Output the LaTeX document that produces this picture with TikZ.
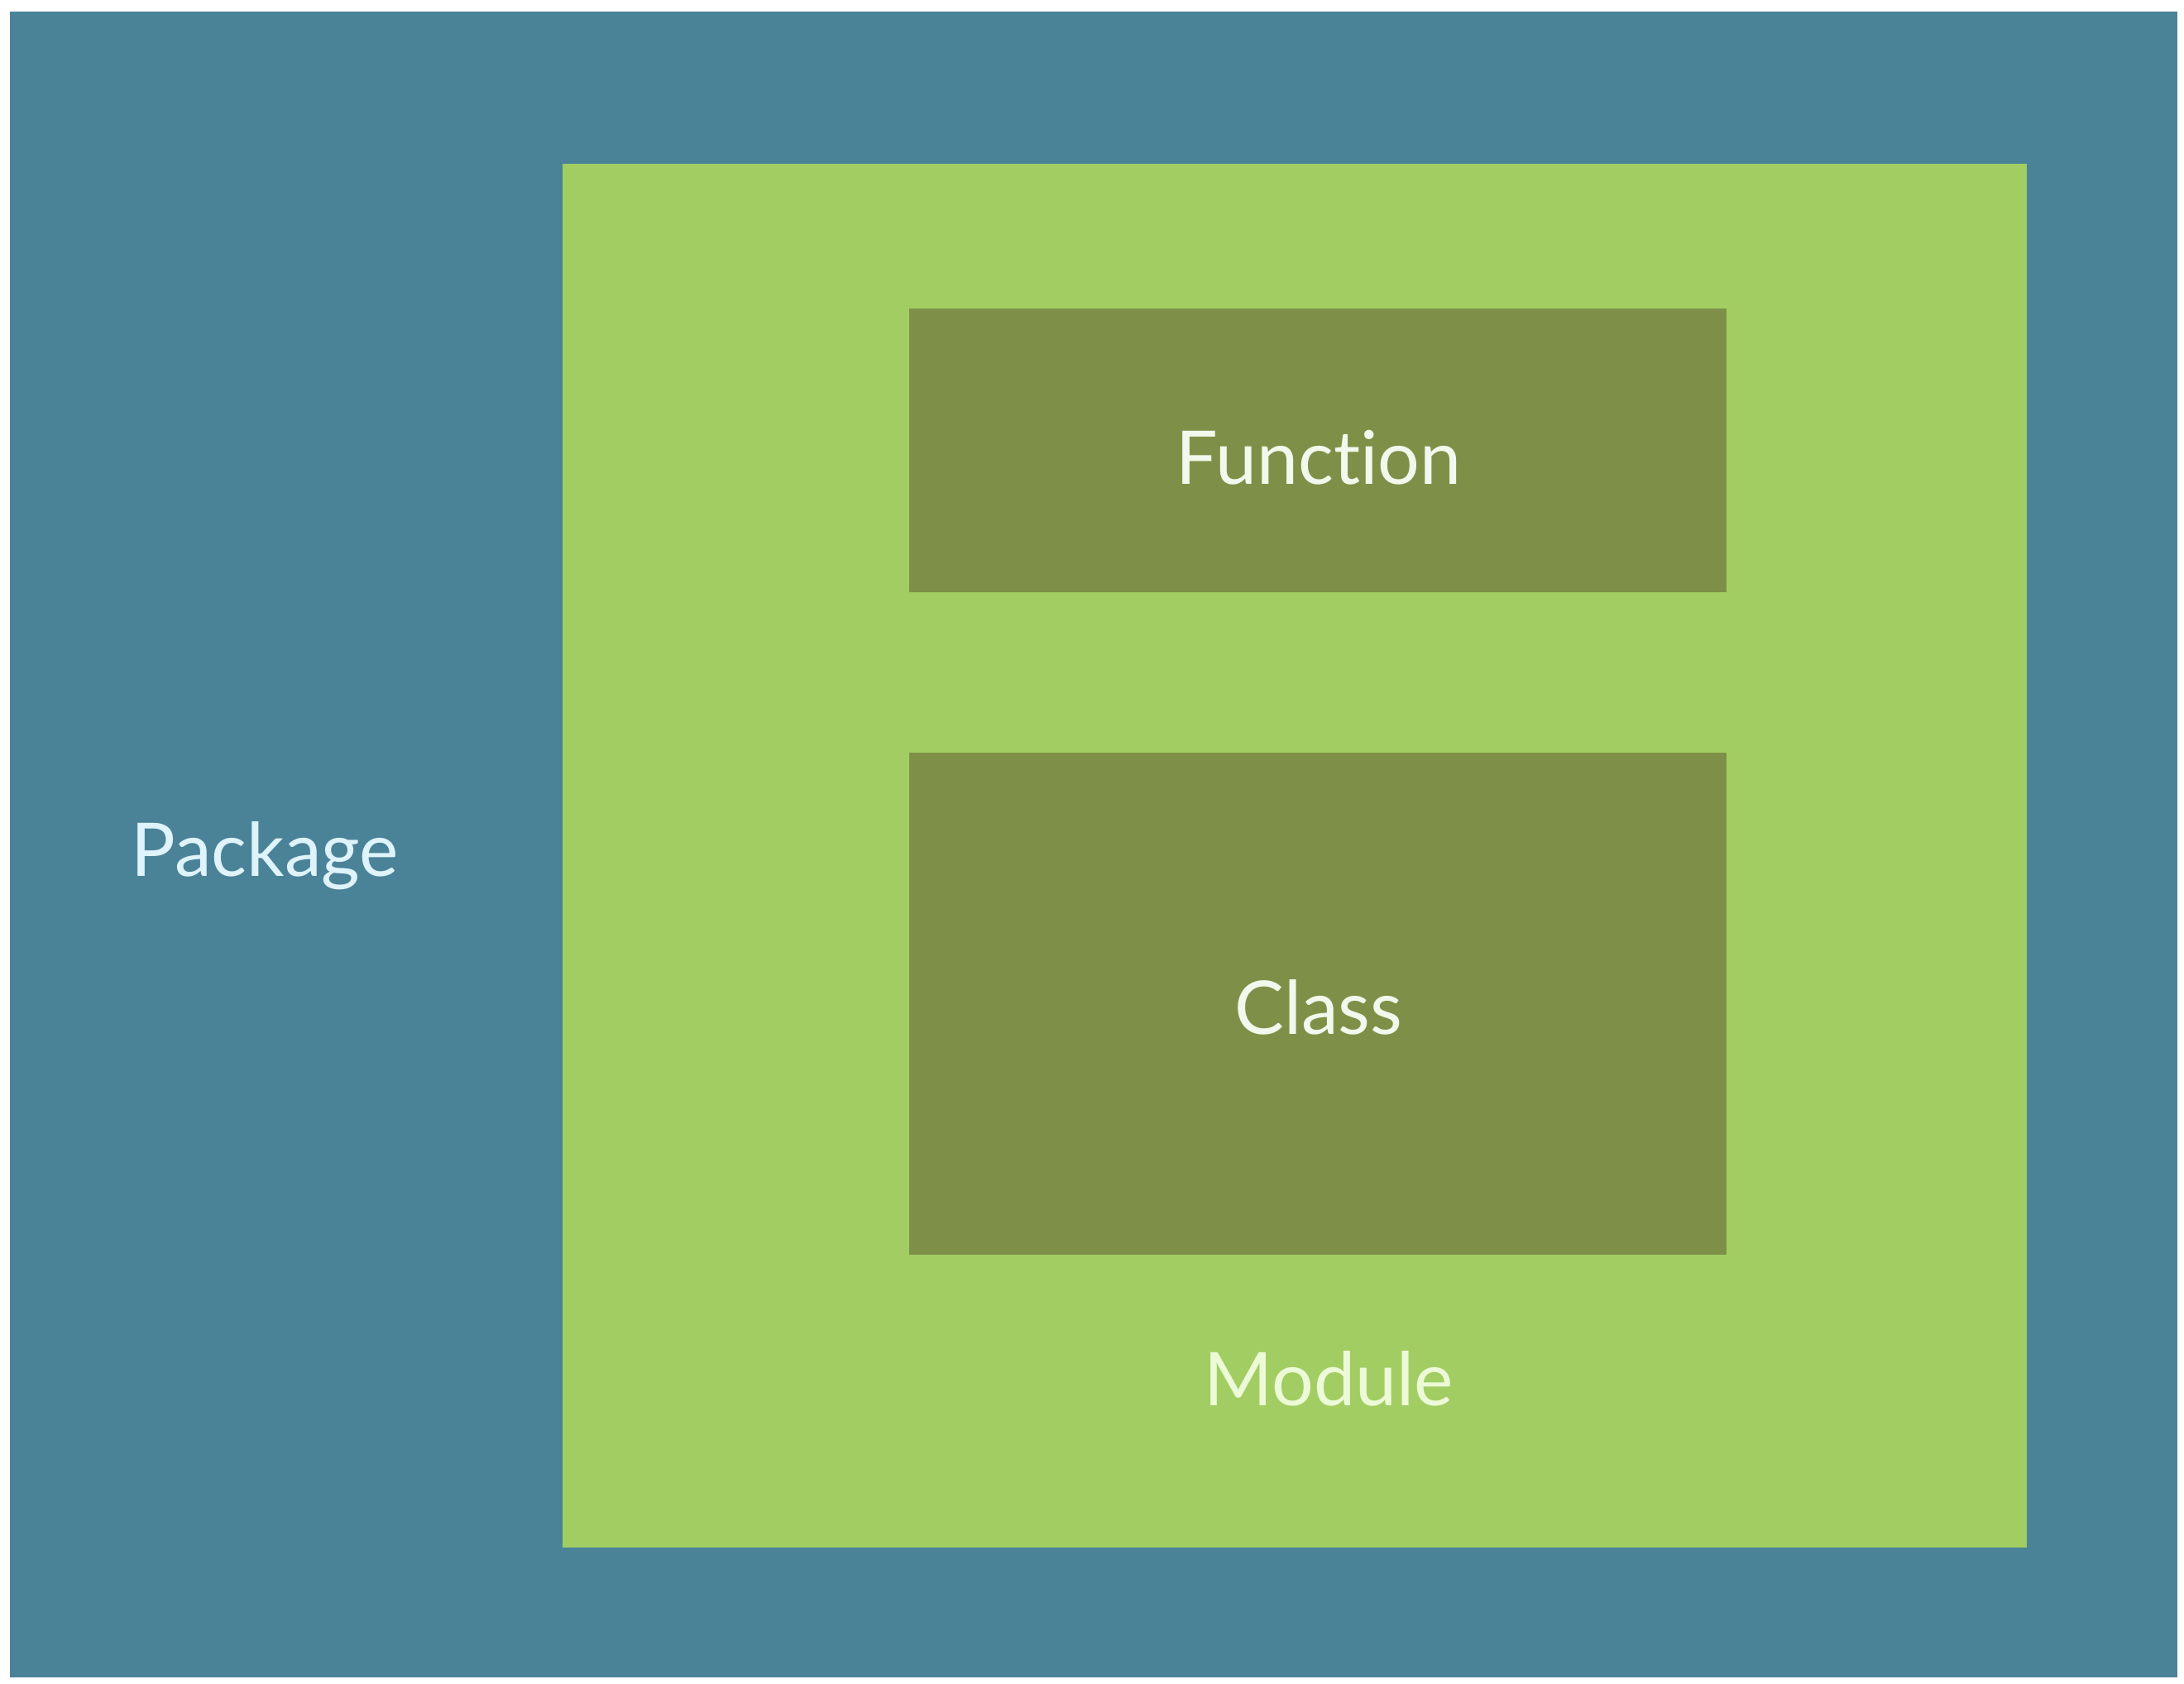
\documentclass[tikz,border=0pt]{standalone}
\usepackage{fontspec}
\setmainfont{Lato}[Ligatures={NoCommon,NoRare}]
\usetikzlibrary{positioning}
\definecolor{pkgblue}{RGB}{74,130,152}
\definecolor{modgreen}{RGB}{162,205,98}
\definecolor{boxolive}{RGB}{126,144,72}
\definecolor{pkgtext}{RGB}{222,243,250}
\definecolor{modtext}{RGB}{236,250,216}
\definecolor{boxtext}{RGB}{242,248,236}

\begin{document}
\begin{tikzpicture}[
        area/.style={rectangle, inner sep=0pt, outer sep=0pt},
        pkg/.style={area, fill=pkgblue},
        mod/.style={area, fill=modgreen},
        box/.style={area, fill=boxolive, minimum width=9.88cm},
        lbl/.style={inner sep=0pt, font=\fontsize{25.5}{30}\selectfont, anchor=base}]
      \useasboundingbox (0,0) rectangle (26.4,-20.36);
      \node[pkg, minimum width=26.20cm, minimum height=20.14cm] (package) at (13.22,-10.21) {};
      \node[mod, minimum width=17.70cm, minimum height=16.73cm] (module) at (15.65,-10.345) {};
      \node[box, minimum height=3.43cm] (function) at (15.93,-5.445) {};
      \node[box, minimum height=6.07cm] (class) at (15.93,-12.135) {};
      % labels
      \node[lbl, anchor=base west, text=pkgtext] (packagelbl) at (1.58,-10.60) {Package};
      \node[lbl, text=modtext] (modulelbl) at (16.06,-17.00) {Module};
      \node[lbl, text=boxtext] (functionlbl) at (15.94,-5.86) {Function};
      \node[lbl, text=boxtext] (classlbl) at (15.94,-12.51) {Class};
    \end{tikzpicture}
\end{document}
